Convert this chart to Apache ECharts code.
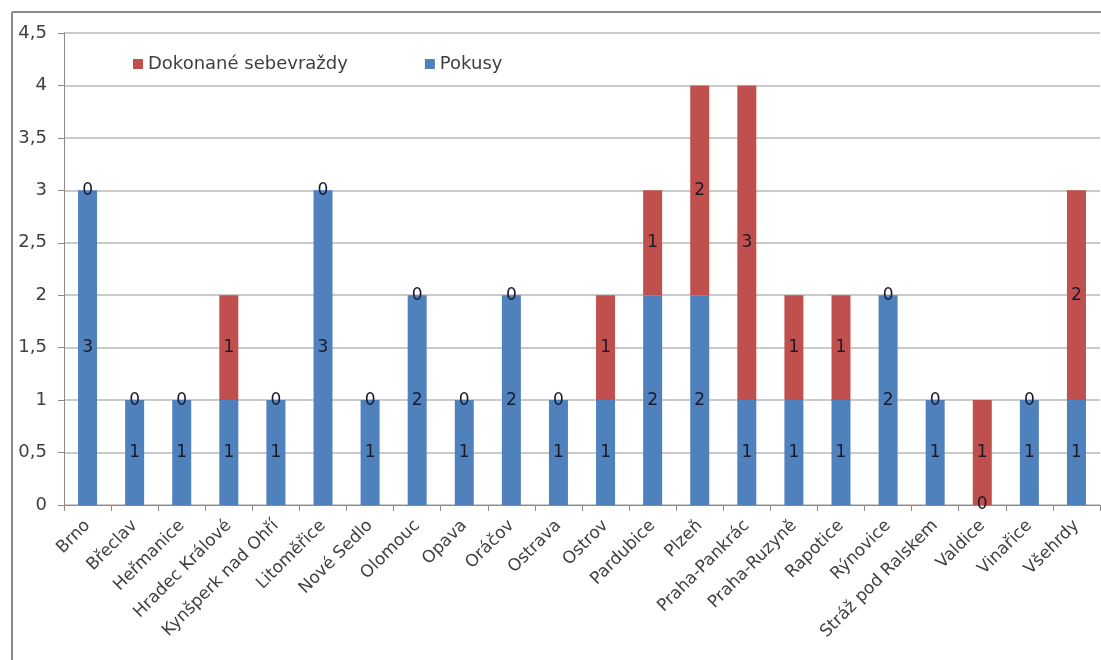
<!DOCTYPE html>
<html>
<head>
<meta charset="utf-8">
<script src="https://cdn.jsdelivr.net/npm/echarts@6/dist/echarts.min.js"></script>
<style>
  html, body { margin: 0; padding: 0; background: #fff; }
  #chart { width: 1101px; height: 660px; }
</style>
</head>
<body>
<div id="chart"></div>
<script>
// Věznice
const categories = [
  'Brno', 'Břeclav', 'Heřmanice', 'Hradec Králové', 'Kynšperk nad Ohří',
  'Litoměřice', 'Nové Sedlo', 'Olomouc', 'Opava', 'Oráčov', 'Ostrava',
  'Ostrov', 'Pardubice', 'Plzeň', 'Praha-Pankrác', 'Praha-Ruzyně',
  'Rapotice', 'Rýnovice', 'Stráž pod Ralskem', 'Valdice', 'Vinařice', 'Všehrdy'
];
// Pokusy o sebevraždu
const pokusy = [3, 1, 1, 1, 1, 3, 1, 2, 1, 2, 1, 1, 2, 2, 1, 1, 1, 2, 1, 0, 1, 1];
// Dokonané sebevraždy
const dokonane = [0, 0, 0, 1, 0, 0, 0, 0, 0, 0, 0, 1, 1, 2, 3, 1, 1, 0, 0, 1, 0, 2];
// Osa Y
const yTicks = { min: 0, max: 4.5, step: 0.5 };

const FONT = 'DejaVu Sans';
const TEXT = '#404040';

const chart = echarts.init(document.getElementById('chart'), null, { renderer: 'canvas' });

const segLabel = {
  show: true,
  position: 'inside',
  color: '#1a1a2a',
  fontFamily: FONT,
  fontSize: 17
};

chart.setOption({
  animation: false,
  backgroundColor: '#fff',
  textStyle: { fontFamily: FONT },
  graphic: [
    { type: 'line', shape: { x1: 12, y1: 12, x2: 1101, y2: 12 }, style: { stroke: '#8a8a8a', lineWidth: 2 } },
    { type: 'line', shape: { x1: 12, y1: 12, x2: 12, y2: 660 }, style: { stroke: '#8a8a8a', lineWidth: 2 } }
  ],
  legend: {
    data: ['Dokonané sebevraždy', 'Pokusy'],
    left: 128,
    top: 50,
    itemWidth: 10,
    itemHeight: 10,
    itemGap: 77,
    icon: 'rect',
    textStyle: { fontFamily: FONT, fontSize: 18, color: TEXT }
  },
  grid: { left: 64, right: 1, top: 33, bottom: 155, containLabel: false },
  xAxis: {
    type: 'category',
    data: categories,
    axisLine: { show: true, lineStyle: { color: '#8a8a8a', width: 1 } },
    axisTick: { show: true, alignWithLabel: false, length: 6, lineStyle: { color: '#8a8a8a' } },
    axisLabel: {
      interval: 0,
      rotate: 45,
      margin: 18,
      fontFamily: FONT,
      fontSize: 17,
      color: TEXT
    }
  },
  yAxis: {
    type: 'value',
    min: yTicks.min,
    max: yTicks.max,
    interval: yTicks.step,
    axisLine: { show: true, lineStyle: { color: '#8a8a8a', width: 1 } },
    axisTick: { show: true, length: 6, lineStyle: { color: '#8a8a8a' } },
    splitLine: { show: true, lineStyle: { color: '#b8b8b8', width: 1.5 } },
    axisLabel: {
      margin: 17,
      fontFamily: FONT,
      fontSize: 18,
      color: TEXT,
      formatter: v => String(v).replace('.', ',')
    }
  },
  series: [
    {
      name: 'Pokusy',
      type: 'bar',
      stack: 'total',
      data: pokusy,
      barWidth: 19,
      itemStyle: { color: '#4F81BD' },
      label: segLabel
    },
    {
      name: 'Dokonané sebevraždy',
      type: 'bar',
      stack: 'total',
      data: dokonane,
      barWidth: 19,
      itemStyle: { color: '#C0504D' },
      label: segLabel
    }
  ]
});
</script>
</body>
</html>
